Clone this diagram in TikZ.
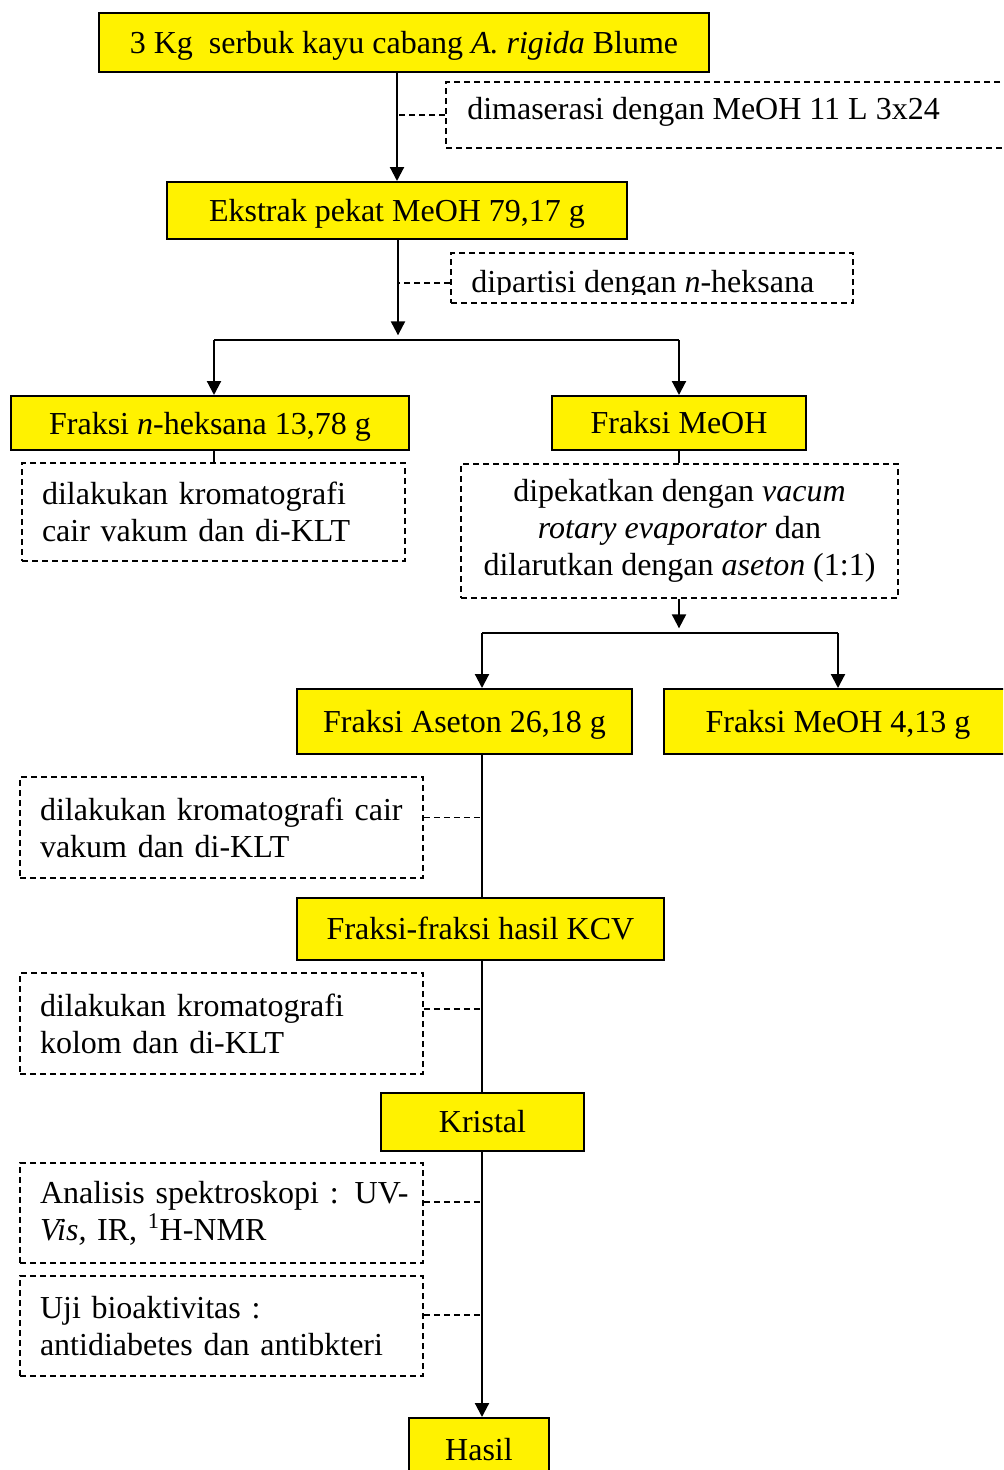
\documentclass[tikz,border=0pt]{standalone}
\usepackage{fontspec}
\setmainfont{Liberation Serif}
\usetikzlibrary{arrows.meta}
\begin{document}
\begin{tikzpicture}[x=0.75pt,y=-0.75pt,
  font=\fontsize{24}{27.75}\selectfont,
  area/.style n args={4}{minimum width=(#3-#1)*0.75pt, minimum height=(#4-#2)*0.75pt, at={({(#1+#3)/2},{(#2+#4)/2})}},
  ybox/.style={draw=black, line width=1.5pt, fill=yellow, inner sep=0pt, anchor=center, text height=17pt, text depth=1.2pt},
  dbox/.style={draw=black, line width=1.2pt, dash pattern=on 4.5pt off 3pt, inner sep=0pt, anchor=center},
  lbox/.style={dbox, align=left, text width=(#1-40)*0.75pt},
  conn/.style={line width=1.6pt},
  arr/.style={conn, -{Triangle[length=10.5pt,width=10.5pt]}},
  dconn/.style={line width=1.2pt, dash pattern=on 4.5pt off 3pt},
]
\useasboundingbox (0,0) rectangle (1003,1470);
\clip (0,0) rectangle (1003,1470);

% main boxes
\node[ybox, area={99}{13}{709}{72}] (b1) {3 Kg\ \ serbuk kayu cabang \textit{A. rigida} Blume};
\node[ybox, area={167}{182}{627}{239}] (b2) {Ekstrak pekat MeOH 79,17 g};
\node[ybox, area={11}{396}{409}{450}, text height=19pt] (b3) {Fraksi \textit{n}-heksana 13,78 g};
\node[ybox, area={552}{396}{806}{450}] (b4) {Fraksi MeOH};
\node[ybox, area={297}{689}{632}{754}] (b5) {Fraksi Aseton 26,18 g};
\node[ybox, area={664}{689}{1012}{754}] (b6) {Fraksi MeOH 4,13 g};
\node[ybox, area={297}{898}{664}{960}] (b7) {Fraksi-fraksi hasil KCV};
\node[ybox, area={381}{1093}{584}{1151}] (b8) {Kristal};
\node[ybox, area={409}{1418}{549}{1500}] (b9) {};
\node[anchor=base, inner sep=0pt] (t9) at (479,1460) {Hasil};

% dashed boxes
\node[dbox, area={446}{82}{1015}{148}] (d1) {};
\node[anchor=west, inner sep=0pt] (t1) at (467,112) {dimaserasi dengan MeOH 11 L 3x24};
\node[dbox, area={451}{253}{853}{303}] (d2) {};
\begin{scope}
  \clip (451,253) rectangle (853,294);
  \node[anchor=base west, inner sep=0pt] (t2) at (471,292) {dipartisi dengan \textit{n}-heksana};
\end{scope}
\node[lbox=383, area={22}{463}{405}{561}] (d3)
  {\mbox{dilakukan kromatografi}\\\mbox{cair vakum dan di-KLT}};
\node[dbox, align=center, area={461}{464}{898}{598}] (d4)
  {dipekatkan dengan \textit{vacum}\\\textit{rotary evaporator} dan\\dilarutkan dengan \textit{aseton} (1:1)};
\node[lbox=403, area={20}{777}{423}{878}] (d5)
  {\mbox{dilakukan kromatografi cair}\\\mbox{vakum dan di-KLT}};
\node[lbox=403, area={20}{973}{423}{1074}] (d6)
  {\mbox{dilakukan kromatografi}\\\mbox{kolom dan di-KLT}};
\node[lbox=403, area={20}{1163}{423}{1263}] (d7)
  {\mbox{Analisis spektroskopi : UV-}\\\mbox{\textit{Vis,} IR, \textsuperscript{1}H-NMR}};
\node[lbox=403, area={20}{1276}{423}{1376}] (d8)
  {\mbox{Uji bioaktivitas :}\\\mbox{antidiabetes dan antibkteri}};

% helper coordinates
\coordinate (j1) at (398,340);
\coordinate (j2) at (679,633);
\coordinate (sp) at (482,0);
\coordinate (xl) at (214,0);

% connectors
\draw[arr] (b1.south -| b2.north) -- (b2.north);
\draw[dconn] (d1.west) -- (d1.west -| b2.north);
\draw[arr] (b2.south -| j1) -- ([yshift=3.5pt]j1);
\draw[dconn] ([yshift=-3.75pt]d2.west) -- ([yshift=-3.75pt]d2.west -| j1);
\draw[conn] (j1 -| xl) -- (j1 -| b4.north);
\draw[arr] (j1 -| xl) -- (b3.north -| xl);
\draw[arr] (j1 -| b4.north) -- (b4.north);
\draw[conn] (b3.south -| xl) -- (d3.north -| xl);
\draw[conn] (b4.south) -- (d4.north -| b4.south);
\draw[arr] (d4.south -| j2) -- ([yshift=3.5pt]j2);
\draw[conn] (j2 -| sp) -- (j2 -| b6.north);
\draw[arr] (j2 -| sp) -- (b5.north -| sp);
\draw[arr] (j2 -| b6.north) -- (b6.north);
\draw[conn] (b5.south -| sp) -- (b7.north -| sp);
\draw[dconn] ([yshift=7.5pt]d5.east) -- ([yshift=7.5pt]d5.east -| sp);
\draw[conn] (b7.south -| sp) -- (b8.north -| sp);
\draw[dconn] ([yshift=10.9pt]d6.east) -- ([yshift=10.9pt]d6.east -| sp);
\draw[arr] (b8.south -| sp) -- (b9.north -| sp);
\draw[dconn] ([yshift=8.25pt]d7.east) -- ([yshift=8.25pt]d7.east -| sp);
\draw[dconn] ([yshift=8.25pt]d8.east) -- ([yshift=8.25pt]d8.east -| sp);
\end{tikzpicture}
\end{document}
